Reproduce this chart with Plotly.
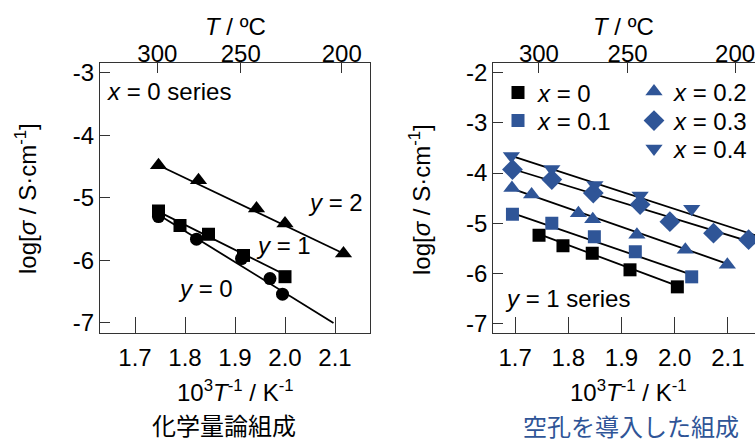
import plotly.graph_objects as go

# ---------------- data ----------------
# left panel (x = 0 series), y = 2 / 1 / 0
L_y2_x = [1.747, 1.827, 1.943, 2.000, 2.117]
L_y2_s = [-4.48, -4.72, -5.17, -5.41, -5.89]
L_y1_x = [1.747, 1.790, 1.847, 1.917, 2.000]
L_y1_s = [-5.21, -5.44, -5.58, -5.92, -6.26]
L_y0_x = [1.747, 1.823, 1.913, 1.970, 1.995]
L_y0_s = [-5.30, -5.66, -5.97, -6.29, -6.54]

# fitted lines (left)
F_y2_x = [1.747, 2.117]; F_y2_s = [-4.48, -5.89]
F_y1_x = [1.747, 2.000]; F_y1_s = [-5.22, -6.23]
F_y0_x = [1.747, 2.097]; F_y0_s = [-5.27, -7.00]

# right panel (y = 1 series), x = 0 ... 0.4
R_x0_x = [1.745, 1.790, 1.845, 1.916, 2.005]
R_x0_s = [-5.24, -5.45, -5.60, -5.93, -6.27]
R_x1_x = [1.695, 1.769, 1.849, 1.926, 2.032]
R_x1_s = [-4.82, -5.00, -5.27, -5.57, -6.07]
R_x2_x = [1.694, 1.731, 1.819, 1.846, 1.929, 2.020, 2.099]
R_x2_s = [-4.30, -4.43, -4.80, -4.92, -5.23, -5.53, -5.83]
R_x3_x = [1.695, 1.769, 1.847, 1.935, 1.991, 2.073, 2.139]
R_x3_s = [-3.93, -4.13, -4.40, -4.63, -4.97, -5.20, -5.33]
R_x4_x = [1.693, 1.769, 1.850, 1.935, 2.032]
R_x4_s = [-3.66, -3.92, -4.24, -4.45, -4.71]

# fitted lines (right)
G_x0_x = [1.745, 2.005]; G_x0_s = [-5.22, -6.25]
G_x1_x = [1.695, 2.030]; G_x1_s = [-4.80, -6.02]
G_x2_x = [1.694, 2.099]; G_x2_s = [-4.31, -5.81]
G_x3_x = [1.695, 2.160]; G_x3_s = [-3.92, -5.43]
G_x4_x = [1.693, 2.160]; G_x4_s = [-3.66, -5.27]

# tick labels
bottom_ticks = [1.7, 1.8, 1.9, 2.0, 2.1]
bottom_ticktext = ["1.7", "1.8", "1.9", "2.0", "2.1"]
top_ticks_C = [300, 250, 200]
left_yticks = [-7, -6, -5, -4, -3]
right_yticks = [-7, -6, -5, -4, -3, -2]

# ---------------- styling ----------------
W, H = 755, 441
FONT = "Liberation Sans, Arial, Helvetica, sans-serif"
CJK = "Noto Sans CJK JP, sans-serif"
BLUE = "#2f5597"
BLACK = "#000000"
AX = "#333333"
FS = 24


def px(x):
    return x / W


def py(y):
    return 1 - y / H


fig = go.Figure()


def line(xs, ys, xa, ya):
    fig.add_trace(go.Scatter(x=xs, y=ys, mode="lines", xaxis=xa, yaxis=ya,
                             line=dict(color="black", width=1.8),
                             showlegend=False, hoverinfo="skip"))


def pts(xs, ys, xa, ya, sym, color, size, name=None, legend=None):
    fig.add_trace(go.Scatter(x=xs, y=ys, mode="markers", xaxis=xa, yaxis=ya,
                             marker=dict(symbol=sym, color=color, size=size,
                                         line=dict(width=0)),
                             name=name, showlegend=name is not None,
                             legend=legend))


# left panel
line(F_y2_x, F_y2_s, "x", "y")
line(F_y1_x, F_y1_s, "x", "y")
line(F_y0_x, F_y0_s, "x", "y")
pts(L_y2_x, L_y2_s, "x", "y", "triangle-up", BLACK, 15)
pts(L_y1_x, L_y1_s, "x", "y", "square", BLACK, 13)
pts(L_y0_x, L_y0_s, "x", "y", "circle", BLACK, 13)

# right panel
for gx, gs in [(G_x0_x, G_x0_s), (G_x1_x, G_x1_s), (G_x2_x, G_x2_s),
               (G_x3_x, G_x3_s), (G_x4_x, G_x4_s)]:
    line(gx, gs, "x2", "y2")
pts(R_x0_x, R_x0_s, "x2", "y2", "square", BLACK, 13, "<i>x</i> = 0", "legend")
pts(R_x1_x, R_x1_s, "x2", "y2", "square", BLUE, 13, "<i>x</i> = 0.1", "legend2")
pts(R_x2_x, R_x2_s, "x2", "y2", "triangle-up", BLUE, 15, "<i>x</i> = 0.2", "legend3")
pts(R_x3_x, R_x3_s, "x2", "y2", "diamond", BLUE, 16, "<i>x</i> = 0.3", "legend4")
pts(R_x4_x, R_x4_s, "x2", "y2", "triangle-down", BLUE, 15, "<i>x</i> = 0.4", "legend5")

top_vals = [1000.0 / (t + 273.15) for t in top_ticks_C]
top_text = [str(t) for t in top_ticks_C]

ydom = [py(333), py(62.7)]
common_x = dict(showgrid=False, zeroline=False, showline=True, linecolor=AX,
                linewidth=1.3, ticks="inside", tickcolor=AX, tickwidth=1.3,
                tickfont=dict(family=FONT, size=FS, color="black"),
                automargin=False, ticklabeloverflow="allow")
common_y = dict(showgrid=False, zeroline=False, showline=True, linecolor=AX,
                linewidth=1.3, ticks="inside", tickcolor=AX, tickwidth=1.3,
                ticklen=10, tickfont=dict(family=FONT, size=FS, color="black"),
                automargin=False)

L_range = [1.63, 2.17]
R_range = [1.659, 2.151]


def leg(x, y):
    return dict(x=px(x), y=py(y), xanchor="left", yanchor="middle",
                bgcolor="rgba(0,0,0,0)", borderwidth=0,
                font=dict(family=FONT, size=FS, color="black"))


fig.update_layout(
    width=W, height=H,
    margin=dict(l=0, r=0, t=0, b=0),
    paper_bgcolor="white", plot_bgcolor="white",
    font=dict(family=FONT, size=FS, color="black"),
    xaxis=dict(domain=[px(100), px(370)], anchor="y", range=L_range,
               tickvals=bottom_ticks, ticktext=bottom_ticktext, ticklen=16,
               ticklabelstandoff=3, **common_x),
    yaxis=dict(domain=ydom, anchor="x", range=[-7.16, -2.84],
               tickvals=left_yticks, ticktext=[str(v) for v in left_yticks],
               mirror=True, **common_y),
    xaxis3=dict(overlaying="x", side="top", anchor="y", range=L_range,
                tickvals=top_vals, ticktext=top_text, ticklen=10,
                ticklabelstandoff=-10, **common_x),
    xaxis2=dict(domain=[px(493.3), 1.0], anchor="y2", range=R_range,
                tickvals=bottom_ticks, ticktext=bottom_ticktext, ticklen=16,
                ticklabelstandoff=3, **common_x),
    yaxis2=dict(domain=ydom, anchor="x2", range=[-7.19, -1.80],
                tickvals=right_yticks, ticktext=[str(v) for v in right_yticks],
                mirror=False, **common_y),
    xaxis4=dict(overlaying="x2", side="top", anchor="y2", range=R_range,
                tickvals=top_vals, ticktext=top_text, ticklen=10,
                ticklabelstandoff=-10, **common_x),
    legend=leg(498, 93),
    legend2=leg(498, 121),
    legend3=leg(634, 92),
    legend4=leg(634, 121),
    legend5=leg(634, 149),
)

# dummy traces to activate top axes
fig.add_trace(go.Scatter(x=[None], y=[None], xaxis="x3", yaxis="y",
                         showlegend=False, hoverinfo="skip"))
fig.add_trace(go.Scatter(x=[None], y=[None], xaxis="x4", yaxis="y2",
                         showlegend=False, hoverinfo="skip"))


def ann(x, y, text, size=FS, color="black", family=FONT, angle=0,
        xanchor="center"):
    fig.add_annotation(x=px(x), y=py(y), xref="paper", yref="paper",
                       text=text, showarrow=False, textangle=angle,
                       xanchor=xanchor, yanchor="middle",
                       font=dict(family=family, size=size, color=color))


ytitle = "log[<i>σ</i> / S·cm<sup>-1</sup>]"
xtitle = "10<sup>3</sup><i>T</i><sup>-1</sup> / K<sup>-1</sup>"
ttitle = "<i>T</i> / ºC"

# left panel texts
ann(236, 27, ttitle)
ann(26, 199, ytitle, angle=-90)
ann(236, 391, xtitle)
ann(224, 424, "化学量論組成", size=24, family=CJK)
ann(105, 92, "<i>x</i> = 0 series", xanchor="left")
ann(335, 202, "<i>y</i> = 2")
ann(283, 245, "<i>y</i> = 1")
ann(205, 288, "<i>y</i> = 0")

# right panel texts
ann(623, 27, ttitle)
ann(420, 199, ytitle, angle=-90)
ann(628, 391, xtitle)
ann(631, 425, "空孔を導入した組成", size=24, family=CJK, color=BLUE)
ann(503, 298, "<i>y</i> = 1 series", xanchor="left")

fig.write_html("out.html",
               config={"displayModeBar": False},
               post_script="document.body.style.margin='0px';"
                           "document.body.style.overflow='hidden';")
